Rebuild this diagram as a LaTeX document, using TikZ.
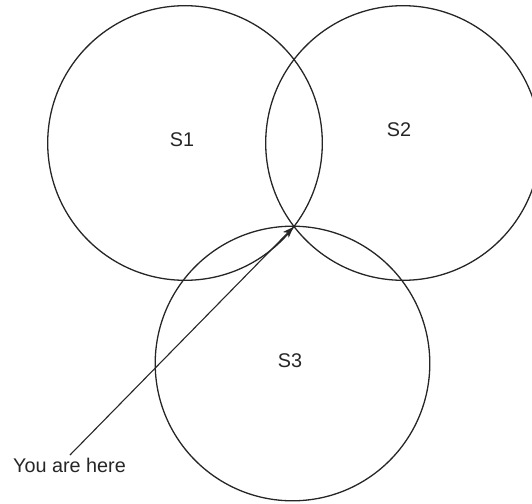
\documentclass[tikz,border=0pt]{standalone}
\usepackage{fontspec}
\setmainfont{Liberation Sans}
\usetikzlibrary{arrows.meta}
\begin{document}
\begin{tikzpicture}[x=1pt,y=-1pt,
  setcircle/.style={draw=black!85, line width=1.3pt},
  lbl/.style={font=\fontsize{19.8}{22}\selectfont, text=black!85, inner sep=0pt},
  pointer/.style={draw=black!85, line width=1.1pt, -{Stealth[length=11pt,width=8pt,inset=3pt]}}]
\useasboundingbox (0,0) rectangle (532,503);
\clip (0,0) rectangle (532,503);
\draw[setcircle] (185,143) circle[radius=137.3];
\draw[setcircle] (403,143) circle[radius=137.3];
\draw[setcircle] (292.5,363.5) circle[radius=137.3];
\node[lbl] (s1) at (182,140) {S1};
\node[lbl] (s2) at (399,130) {S2};
\node[lbl] (s3) at (290,361) {S3};
\coordinate (meet) at (293.5,227);
\node[lbl, anchor=base west] (here) at (13,472) {You are here};
\coordinate (start) at (70,455);
\draw[pointer] (start) -- (meet);
\end{tikzpicture}
\end{document}
